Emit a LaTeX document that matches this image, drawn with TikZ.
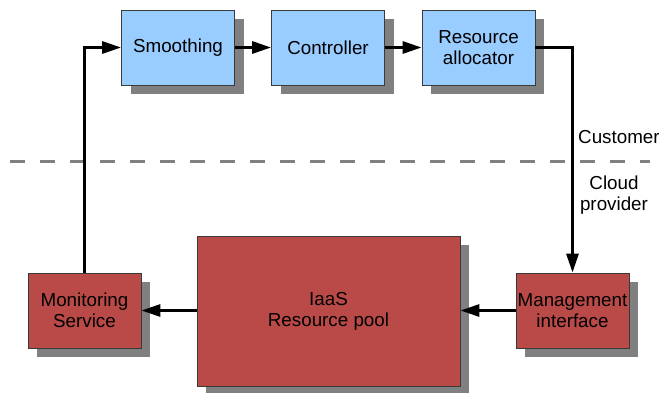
\documentclass[tikz,border=0pt]{standalone}
\usepackage{fontspec}
\setmainfont{Liberation Sans}
\usetikzlibrary{shadows,arrows.meta}
\definecolor{boxblue}{HTML}{99CCFF}
\definecolor{boxred}{HTML}{B94A48}
\definecolor{shadowgray}{HTML}{808080}
\definecolor{edgegray}{HTML}{3A3A3A}
\definecolor{dashgray}{HTML}{808080}
\begin{document}
\begin{tikzpicture}[x=1pt,y=1pt,
  every node/.style={font=\fontsize{18.8}{21}\selectfont, text=black, align=center, inner sep=0pt},
  blockbox/.style={draw=edgegray, line width=0.8pt, minimum width=113pt, minimum height=75pt,
     drop shadow={shadow xshift=9pt, shadow yshift=-9pt, fill=shadowgray, opacity=1}},
  bluebox/.style={blockbox, fill=boxblue},
  redbox/.style={blockbox, fill=boxred},
  flow/.style={line width=3pt, -{Triangle[length=19pt,width=12pt]}},
  lineonly/.style={line width=3pt}
]
\useasboundingbox (0,0) rectangle (659,392);
\node[bluebox] (smooth) at (178,344.5) {Smoothing};
\node[bluebox] (ctrl) at (328,344.5) {Controller};
\node[bluebox] (ralloc) at (478.5,344.5) {Resource\\allocator};
\node[redbox] (monit) at (84.5,81.5) {Monitoring\\Service};
\node[redbox] (mgmt) at (572.5,81.5) {Management\\interface};
\node[redbox, minimum width=263pt, minimum height=150pt] (iaas) at (328.5,81) {IaaS\\Resource pool};
\draw[dashgray, line width=3pt, dash pattern=on 15pt off 15pt] (10,231) coordinate (dl) -- (650,231) coordinate (dr);
\node[anchor=west] (cust) at (578,255) {Customer};
\node (cloud) at (614,197) {Cloud\\provider};
\draw[flow] (smooth) -- (ctrl);
\draw[flow] (ctrl) -- (ralloc);
\draw[flow] (ralloc.east) -| (mgmt.north);
\draw[flow] (mgmt.west) -- (iaas.east |- mgmt.west);
\draw[flow] (iaas.west |- monit.east) -- (monit.east);
\draw[flow] (monit.north) |- (smooth.west);
\end{tikzpicture}
\end{document}
